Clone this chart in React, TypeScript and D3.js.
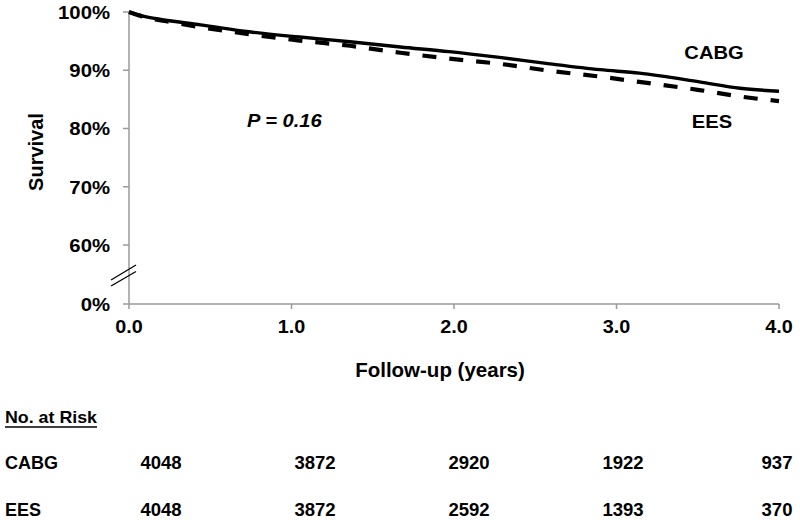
import React from "react";
import * as d3 from "d3";

const times = [0, 0.1, 0.25, 0.44, 0.74, 1.05, 1.36, 1.67, 1.97, 2.28, 2.59, 2.9, 3.14, 3.51, 3.76, 4.0];
const cabgSurvival = [100, 99.2, 98.5, 97.8, 96.6, 95.7, 94.9, 94.0, 93.2, 92.2, 91.1, 90.1, 89.5, 88.0, 86.9, 86.4];
const eesSurvival = [100, 99.1, 98.3, 97.4, 96.2, 95.1, 94.2, 93.0, 92.0, 91.1, 89.9, 88.9, 88.0, 86.6, 85.5, 84.7];

const yTicks = [0, 60, 70, 80, 90, 100];
const xTicks = [0, 1, 2, 3, 4];
const riskTimes = [0, 1, 2, 3, 4];
const cabgAtRisk = [4048, 3872, 2920, 1922, 937];
const eesAtRisk = [4048, 3872, 2592, 1393, 370];

const FONT = "'Liberation Sans', Arial, Helvetica, sans-serif";

type TProps = {
  x: number;
  y: number;
  size: number;
  sx?: number;
  anchor?: "start" | "middle" | "end";
  italic?: boolean;
  children: React.ReactNode;
};

function T({ x, y, size, sx = 1, anchor = "start", italic = false, children }: TProps) {
  return (
    <text
      transform={`translate(${x},${y}) scale(${sx},1)`}
      fontFamily={FONT}
      fontWeight="bold"
      fontStyle={italic ? "italic" : "normal"}
      fontSize={size}
      textAnchor={anchor}
      fill="#000"
    >
      {children}
    </text>
  );
}

export default function App() {
  const x = d3.scaleLinear().domain([0, 4]).range([129, 779]);
  const y = d3.scaleLinear().domain([0, 60, 100]).range([304, 245, 12]);
  const tableX = d3.scaleLinear().domain([0, 4]).range([161, 777]);

  const line = d3
    .line<number>()
    .x((_, i) => x(times[i]))
    .y((d) => y(d))
    .curve(d3.curveMonotoneX);

  const axisColor = "#9a9a9a";

  return (
    <svg
      width={800}
      height={520}
      style={{ position: "absolute", left: 0, top: 0, background: "#fff" }}
    >
      {/* Y axis */}
      <line x1={x(0)} x2={x(0)} y1={y(100)} y2={y(0)} stroke={axisColor} strokeWidth={1.5} />
      {yTicks.map((t) => (
        <g key={t}>
          <line x1={x(0) - 6} x2={x(0)} y1={y(t)} y2={y(t)} stroke={axisColor} strokeWidth={1.5} />
          <T x={110} y={y(t) + 6.8} size={19} sx={1.07} anchor="end">
            {`${t}%`}
          </T>
        </g>
      ))}
      {/* axis break */}
      <line x1={111} y1={280} x2={136} y2={265} stroke="#000" strokeWidth={1.3} />
      <line x1={111} y1={286} x2={136} y2={271.5} stroke="#000" strokeWidth={1.3} />

      {/* X axis */}
      <line x1={x(0)} x2={x(4)} y1={y(0)} y2={y(0)} stroke={axisColor} strokeWidth={1.5} />
      {xTicks.map((t) => (
        <g key={t}>
          <line x1={x(t)} x2={x(t)} y1={y(0)} y2={y(0) + 5} stroke={axisColor} strokeWidth={1.5} />
          <T x={x(t)} y={333} size={18} sx={1.1} anchor="middle">
            {t.toFixed(1)}
          </T>
        </g>
      ))}

      {/* Axis titles */}
      <text
        transform={`translate(42.5,152) rotate(-90)`}
        fontFamily={FONT}
        fontWeight="bold"
        fontSize={20}
        textAnchor="middle"
      >
        Survival
      </text>
      <T x={440} y={377} size={20.5} anchor="middle">
        Follow-up (years)
      </T>

      {/* Curves */}
      <path d={line(eesSurvival) || ""} fill="none" stroke="#000" strokeWidth={4.2} strokeDasharray="14,13" />
      <path d={line(cabgSurvival) || ""} fill="none" stroke="#000" strokeWidth={3.4} />

      {/* Labels */}
      <T x={714} y={59} size={18} sx={1.12} anchor="middle">
        CABG
      </T>
      <T x={712} y={128} size={18} sx={1.12} anchor="middle">
        EES
      </T>
      <T x={247} y={127} size={17.5} sx={1.15} italic>
        P = 0.16
      </T>

      {/* At risk table */}
      <T x={5} y={423} size={16.5} sx={1.08}>
        No. at Risk
      </T>
      <line x1={5} x2={97} y1={427} y2={427} stroke="#000" strokeWidth={1.6} />
      <T x={5} y={469} size={18}>
        CABG
      </T>
      <T x={5} y={516} size={18}>
        EES
      </T>
      {riskTimes.map((t, i) => (
        <g key={t}>
          <T x={tableX(t)} y={469} size={18} sx={1.03} anchor="middle">
            {cabgAtRisk[i]}
          </T>
          <T x={tableX(t)} y={516} size={18} sx={1.03} anchor="middle">
            {eesAtRisk[i]}
          </T>
        </g>
      ))}
    </svg>
  );
}
